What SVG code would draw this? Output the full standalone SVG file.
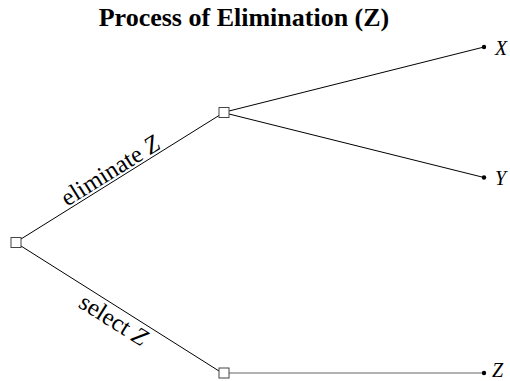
<svg xmlns="http://www.w3.org/2000/svg" width="510" height="381" viewBox="0 0 510 381">
  <style>
    .edge { stroke: #000; stroke-width: 1; fill: none; }
    .edge-grey { stroke: #666; stroke-width: 1.2; fill: none; }
    .decision { fill: #fff; stroke: #444; stroke-width: 1; }
    .leaf { fill: #000; }
    .title { font-family: "Liberation Serif", "Times New Roman", serif; font-weight: bold; font-size: 26px; }
    .lbl { font-family: "Liberation Serif", "Times New Roman", serif; font-size: 24.5px; }
    .var { font-family: "Liberation Serif", "Times New Roman", serif; font-style: italic; font-size: 20px; }
  </style>
  <rect width="510" height="381" fill="#fff"/>

  <text class="title" x="244" y="26" text-anchor="middle">Process of Elimination (Z)</text>

  <g id="connectors">
    <line class="edge" x1="21" y1="239" x2="219" y2="115.5"/>
    <line class="edge" x1="21" y1="246" x2="219" y2="371"/>
    <line class="edge" x1="229" y1="111" x2="484" y2="47"/>
    <line class="edge" x1="229" y1="114" x2="484" y2="177.5"/>
    <line class="edge-grey" x1="229" y1="373" x2="484" y2="373"/>
    <text class="lbl" transform="translate(116,180) rotate(-32)" x="0" y="-3" text-anchor="middle">eliminate <tspan font-style="italic">Z</tspan></text>
    <text class="lbl" transform="translate(121,308) rotate(32.2)" x="0" y="22" text-anchor="middle">select <tspan font-style="italic">Z</tspan></text>
  </g>

  <g id="root">
    <rect class="decision" x="11" y="237.5" width="10" height="10"/>
  </g>
  <g id="eliminate">
    <rect class="decision" x="219" y="107.5" width="10" height="10"/>
  </g>
  <g id="select">
    <rect class="decision" x="219" y="368" width="10" height="10"/>
  </g>
  <g id="outcome-x">
    <circle class="leaf" cx="484" cy="47" r="2.2"/>
    <text class="var" x="495" y="55">X</text>
  </g>
  <g id="outcome-y">
    <circle class="leaf" cx="484" cy="177.5" r="2.2"/>
    <text class="var" x="495" y="185">Y</text>
  </g>
  <g id="outcome-z">
    <circle class="leaf" cx="484" cy="373" r="2.2"/>
    <text class="var" x="492" y="376.5">Z</text>
  </g>
</svg>
